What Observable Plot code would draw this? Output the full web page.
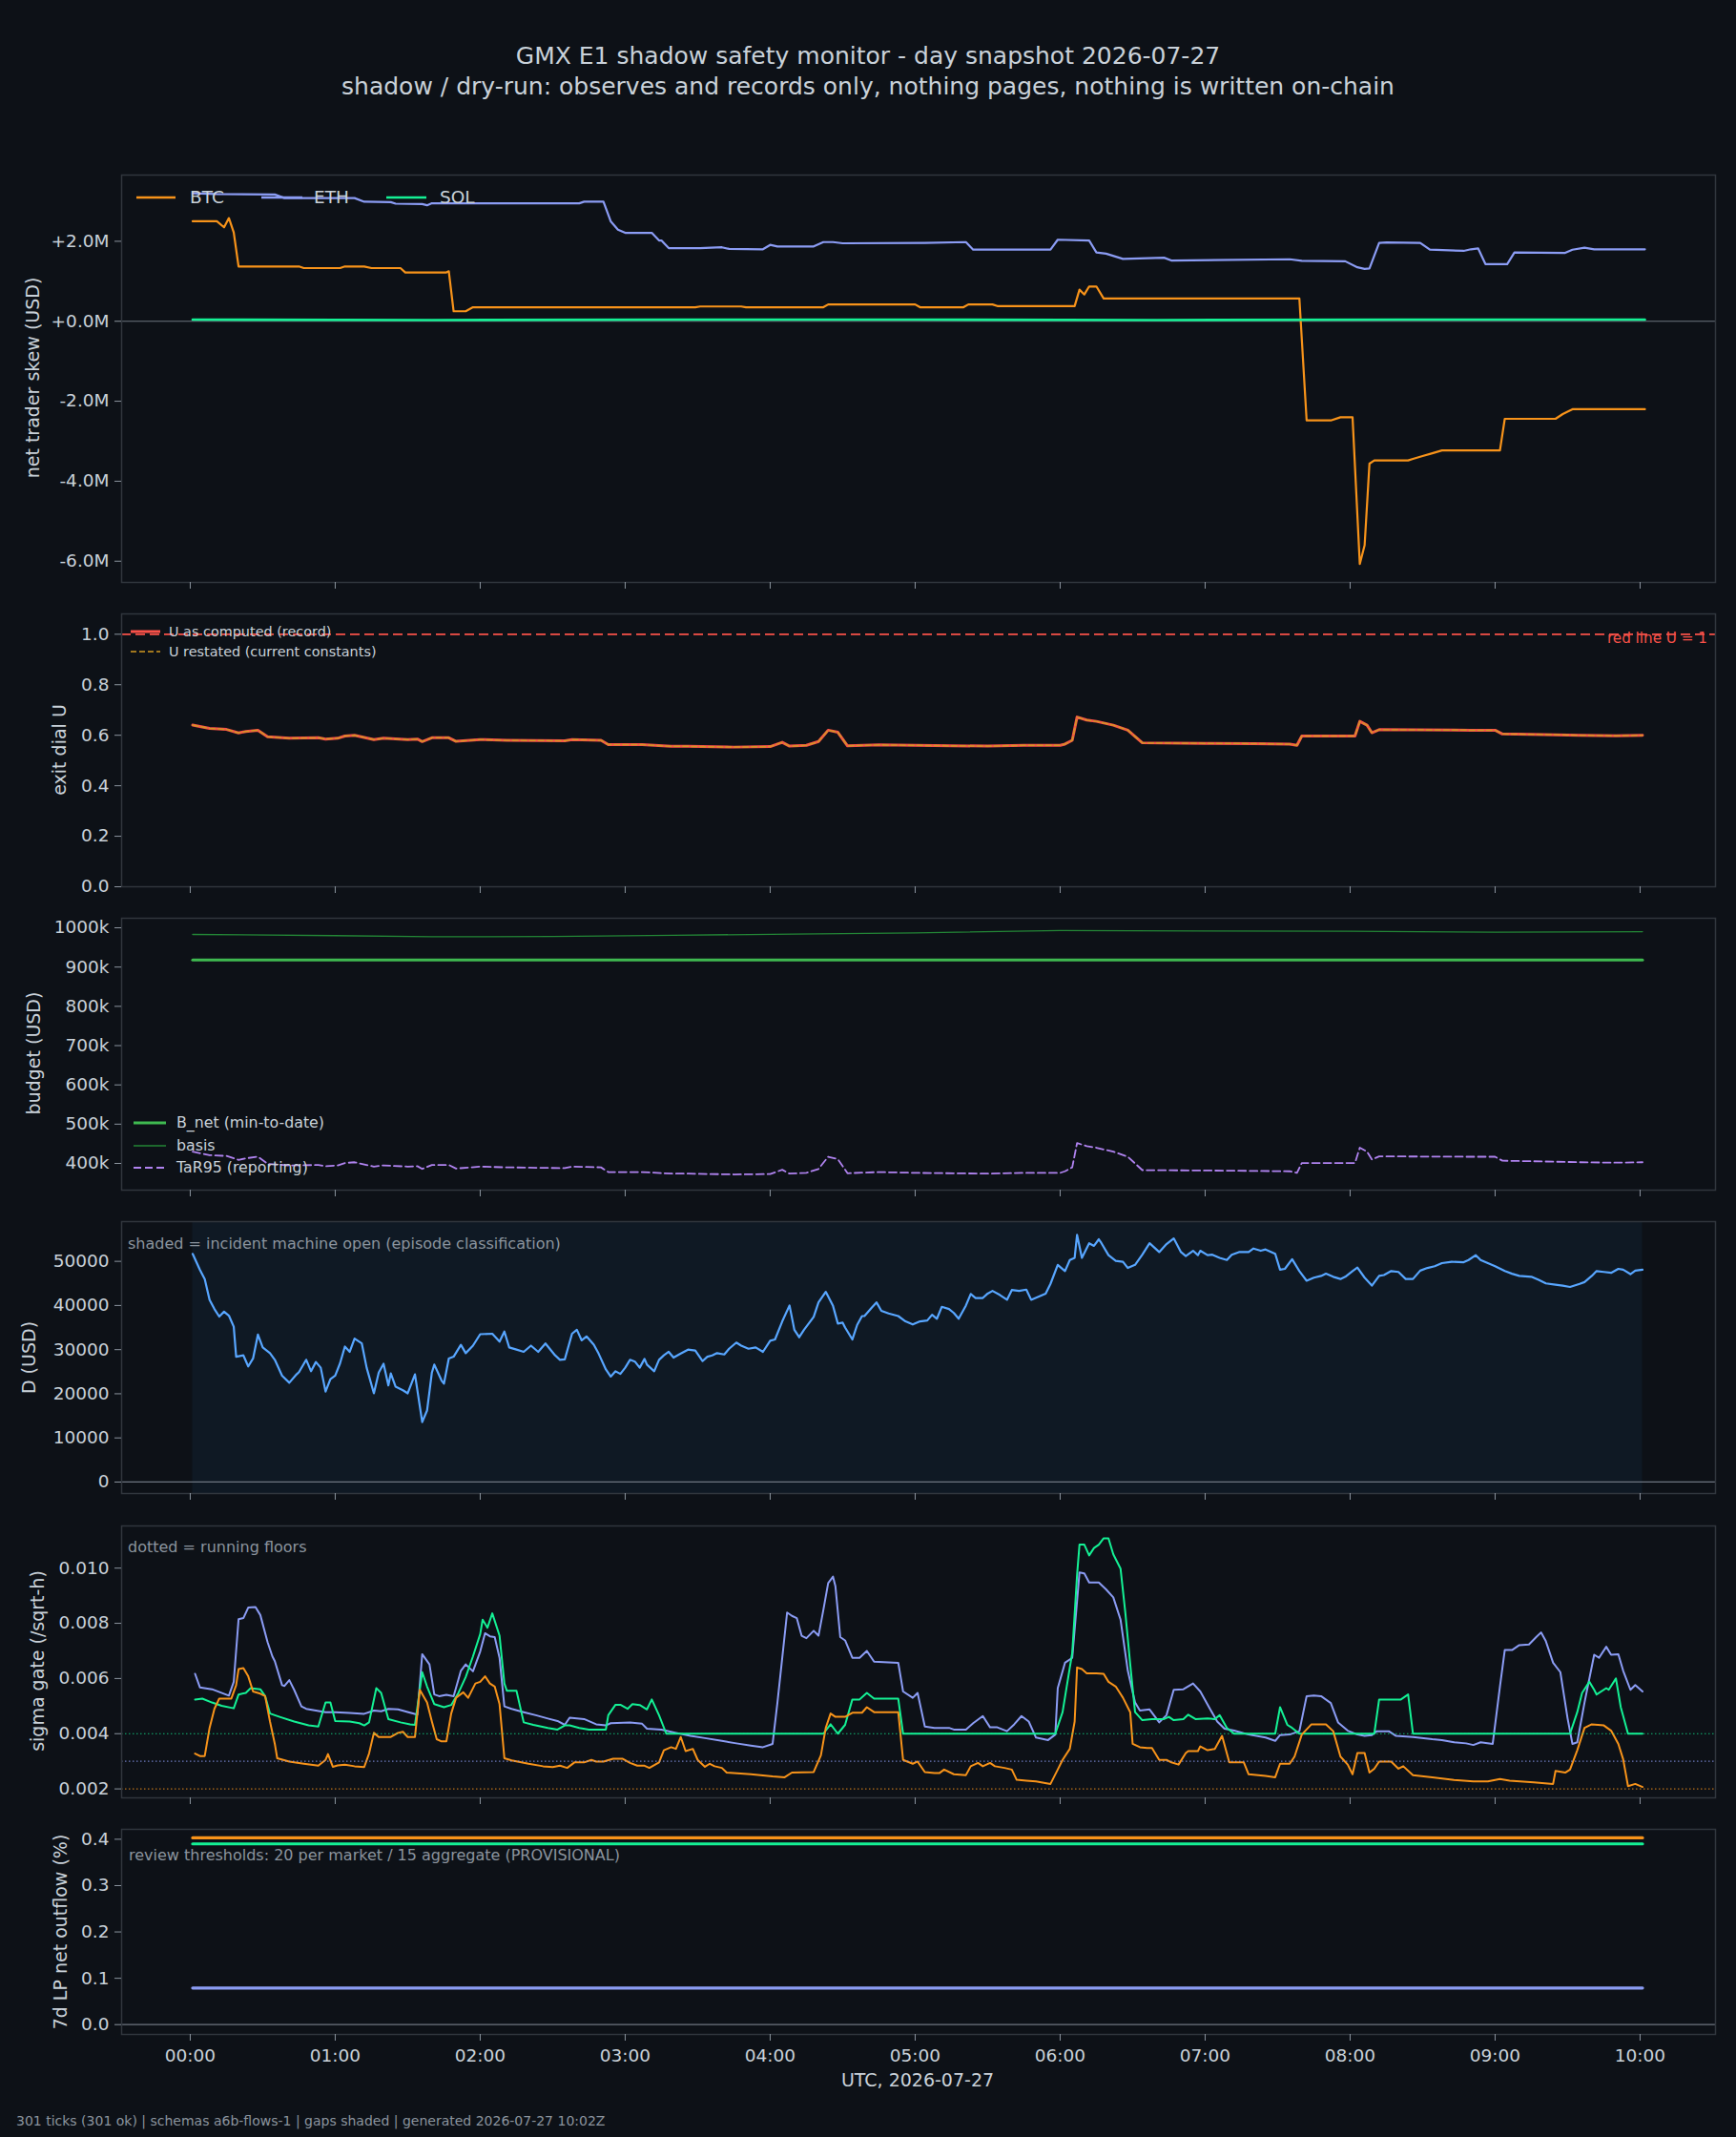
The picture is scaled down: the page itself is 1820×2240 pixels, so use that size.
<!DOCTYPE html>
<html><head><meta charset="utf-8">
<script src="https://cdn.jsdelivr.net/npm/d3@7"></script>
<script src="https://cdn.jsdelivr.net/npm/@observablehq/plot@0.6"></script>
<style>
html,body{margin:0;padding:0;background:#0d1117;}
#root{position:relative;width:1820px;height:2240px;background:#0d1117;font-family:"DejaVu Sans",sans-serif;color:#c9d1d9;overflow:hidden;}
.abs{position:absolute;white-space:nowrap;line-height:1;}
</style></head><body><div id="root"></div>
<script>
// ---------------- DATA (time in minutes after 00:00 UTC) ----------------
const xTickMinutes = [0,60,120,180,240,300,360,420,480,540,600];
const xTickLabels = ["00:00","01:00","02:00","03:00","04:00","05:00","06:00","07:00","08:00","09:00","10:00"];

// panel 1: net trader skew (USD millions)
const skewBtcT = [1,11,14,16,18,20,45,47,62,64,72,75,87,89,106,107,109,114,117,209,211,228,230,262,264,300,302,320,322,332,334,366,368,370,372,375,378,459,462,472,476,481,484,486,488,490,504,506,510,514,518,542,544,565,568,572,602];
const skewBtcV = [2.5,2.5,2.35,2.58,2.22,1.37,1.37,1.33,1.33,1.37,1.37,1.33,1.33,1.22,1.22,1.25,0.25,0.25,0.35,0.35,0.37,0.37,0.35,0.35,0.42,0.42,0.35,0.35,0.42,0.42,0.38,0.38,0.79,0.67,0.87,0.87,0.57,0.57,-2.48,-2.48,-2.4,-2.4,-6.07,-5.6,-3.56,-3.48,-3.48,-3.44,-3.37,-3.3,-3.23,-3.23,-2.44,-2.44,-2.32,-2.2,-2.2];
const skewEthT = [1,11,35,39,68,72,83,85,96,98,100,161,163,171,174,177,180,191,194,195,198,211,220,223,237,240,243,258,262,266,270,304,321,324,356,359,372,375,379,386,403,406,455,460,478,483,486,488,492,495,509,513,527,530,533,536,545,548,569,572,577,581,602];
const skewEthV = [3.2,3.18,3.17,3.08,3.08,2.99,2.98,2.94,2.93,2.9,2.95,2.95,2.99,2.99,2.5,2.29,2.21,2.21,2.02,2.02,1.83,1.83,1.85,1.81,1.8,1.91,1.87,1.87,1.98,1.98,1.95,1.96,1.98,1.79,1.79,2.04,2.02,1.72,1.69,1.56,1.59,1.52,1.55,1.51,1.5,1.35,1.31,1.32,1.96,1.97,1.96,1.79,1.76,1.8,1.82,1.43,1.43,1.72,1.71,1.79,1.84,1.8,1.8];
const skewSolT = [1,100,200,300,400,500,602];
const skewSolV = [0.04,0.03,0.04,0.04,0.03,0.04,0.04];

// panel 2: exit dial U (record and restated coincide)
const uT = [1,8,15,20,23,28,32,41,53,56,61,64,68,76,80,90,94,96,100,107,110,120,131,155,158,170,173,187,199,206,225,240,245,248,255,260,264,268,272,285,300,330,345,360,362,365,367,371,375,382,388,394,420,440,455,458,460,482,484,487,489,492,530,540,543,560,575,590,601];
const uRecordV = [0.640,0.627,0.623,0.609,0.615,0.620,0.594,0.588,0.590,0.585,0.588,0.597,0.600,0.583,0.588,0.583,0.585,0.575,0.590,0.590,0.576,0.583,0.580,0.578,0.583,0.580,0.563,0.563,0.556,0.556,0.553,0.555,0.572,0.557,0.560,0.575,0.620,0.612,0.558,0.562,0.560,0.557,0.560,0.560,0.565,0.580,0.672,0.660,0.655,0.640,0.620,0.570,0.568,0.567,0.565,0.560,0.597,0.597,0.655,0.640,0.610,0.622,0.620,0.620,0.605,0.603,0.600,0.598,0.600];
const uRestatedV = uRecordV.slice();
const uRedLine = 1;

// panel 3: budget (USD thousands)
const bNetT = [1,601];
const bNetV = [918,918];
const basisT = [1,60,100,150,200,250,300,360,420,480,540,601];
const basisV = [983,980,977,978,981,984,987,993,992,991,989,990];
const tar95V = [430,421,419,409,413,417,399,395,396,393,395,401,403,392,395,392,393,386,396,396,387,392,390,388,392,390,378,378,374,374,372,373,384,374,376,386,417,411,375,378,376,374,376,376,380,390,452,444,440,430,417,383,382,381,380,376,401,401,440,430,410,418,417,417,407,405,403,402,403];

// panel 4: D (USD thousands)
const dT = [1,4,6,8,10,12,14,16,18,19,22,24,26,28,30,33,35,38,41,44,45,48,50,52,54,56,58,60,62,64,66,68,71,73,76,78,80,82,83,85,88,90,93,96,98,100,101,104,105,107,109,112,114,117,120,125,128,130,132,135,138,141,144,147,151,153,155,158,160,162,164,167,169,172,174,176,178,180,182,184,186,188,189,192,194,196,198,200,203,206,209,212,214,216,218,221,223,226,228,231,234,237,240,242,245,248,250,252,254,258,260,263,266,268,270,271,274,276,278,279,282,284,286,289,293,296,299,302,305,307,309,311,314,316,318,321,323,325,328,330,332,335,338,340,343,346,348,351,354,356,359,362,364,366,367,369,372,374,376,377,380,383,386,388,391,394,397,401,404,407,410,412,415,417,418,421,423,426,429,431,434,438,440,443,445,449,451,453,456,459,462,465,468,470,473,476,478,481,483,486,489,492,494,497,500,503,506,509,512,515,518,522,527,529,532,534,537,540,544,547,550,555,558,561,565,568,571,575,577,580,582,585,588,591,593,596,598,601];
const dK = [51.7,48.1,46.0,41.3,39.2,37.5,38.6,37.7,35.2,28.4,28.7,26.2,28.0,33.4,30.5,29.2,27.7,24.1,22.5,24.4,24.9,27.7,25.1,27.2,25.9,20.5,23.3,24.1,26.9,30.7,29.5,32.5,31.4,25.9,20.1,24.8,26.8,21.9,24.6,21.6,20.8,20.1,24.4,13.6,16.2,24.8,26.6,23.0,22.3,28.0,28.4,31.1,29.2,30.9,33.5,33.6,31.8,34.1,30.5,30.0,29.5,30.9,29.5,31.4,28.7,27.7,27.8,33.6,34.5,32.1,33.0,31.1,29.1,25.5,23.9,25.1,24.5,25.9,27.7,27.3,25.9,27.9,26.6,25.1,27.7,28.7,29.5,28.2,29.1,30.0,29.8,27.4,28.4,28.7,29.2,28.9,30.2,31.6,30.9,30.2,30.5,29.5,32.0,32.3,36.4,40.0,34.5,32.8,34.5,37.4,40.7,43.1,39.9,35.9,36.1,35.0,32.3,35.6,37.6,37.6,39.5,40.7,38.8,38.2,37.6,36.4,35.7,36.4,36.6,37.9,37.0,39.7,39.2,38.3,37.0,40.0,42.6,41.7,41.7,42.7,43.3,42.4,41.3,43.5,43.3,43.6,41.3,42.0,42.7,44.9,49.2,47.8,50.3,50.8,56.0,50.8,54.1,53.5,55.0,54.2,51.4,50.1,49.9,48.5,49.2,51.5,54.1,52.1,53.9,55.2,52.1,51.2,52.4,51.4,52.4,51.4,51.5,50.8,50.3,51.5,52.1,52.1,52.9,52.4,52.7,51.7,48.1,48.3,50.5,47.8,45.6,46.3,46.7,47.2,46.5,46.0,46.5,47.8,48.6,46.3,44.5,46.7,46.9,47.8,47.6,46.0,46.0,47.9,48.5,48.9,49.6,49.9,49.8,50.3,51.4,50.3,49.6,48.9,47.8,47.2,46.7,46.5,45.8,45.0,44.7,44.5,44.2,44.9,45.3,46.7,47.8,47.6,47.4,48.3,48.1,47.1,47.9,48.1];
const incidentStart = 1, incidentEnd = 601;

// panel 5: sigma gate (/sqrt-h), values in thousandths
const sigEthT = [2,4,9,16,18,20,22,24,27,29,32,34,35,38,39,41,43,46,48,52,56,60,66,72,76,79,82,86,91,94,96,99,101,103,106,109,112,114,117,120,122,124,126,128,130,133,138,143,148,152,155,157,163,168,172,174,182,187,189,195,201,207,213,220,226,232,237,241,243,245,247,249,251,253,255,258,260,262,264,266,267,269,271,274,277,280,283,293,295,299,301,304,308,314,316,321,324,328,331,334,338,341,344,347,350,355,358,359,362,365,368,370,372,376,379,382,385,388,391,393,397,401,404,407,411,415,418,422,425,428,432,438,445,449,451,455,459,462,465,468,472,475,479,483,486,489,491,496,499,506,514,518,523,528,531,534,539,542,544,547,550,554,557,559,561,564,567,570,572,574,577,581,583,586,588,591,593,596,598,601];
const sigEthV = [6.17,5.68,5.61,5.38,5.88,8.15,8.19,8.57,8.59,8.30,7.32,6.80,6.63,5.76,5.73,5.94,5.59,4.99,4.90,4.84,4.78,4.78,4.75,4.72,4.84,4.81,4.90,4.88,4.76,4.69,6.88,6.51,5.42,5.36,5.41,5.36,6.28,6.51,6.26,6.98,7.64,7.53,7.50,6.75,4.99,4.90,4.78,4.67,4.55,4.46,4.32,4.58,4.53,4.34,4.30,4.38,4.41,4.36,4.18,4.15,4.03,3.92,3.84,3.74,3.65,3.57,3.51,3.63,5.13,6.75,8.39,8.27,8.19,7.55,7.46,7.73,7.55,8.48,9.46,9.69,9.34,7.50,7.38,6.75,6.75,7.00,6.61,6.57,5.53,5.30,5.48,4.26,4.21,4.21,4.15,4.15,4.38,4.64,4.23,4.23,4.09,4.34,4.64,4.44,3.86,3.77,3.97,5.65,6.57,6.75,9.84,9.81,9.48,9.48,9.23,8.94,8.13,6.28,5.13,4.84,4.88,4.41,4.67,5.59,5.61,5.82,5.53,4.90,4.44,4.18,4.11,3.97,3.86,3.74,3.95,3.97,4.09,5.36,5.38,5.36,5.11,4.41,4.11,3.97,3.92,3.95,4.09,4.09,3.92,3.88,3.80,3.77,3.69,3.65,3.59,3.69,3.63,5.71,7.03,7.03,7.21,7.23,7.50,7.67,7.35,6.57,6.23,4.55,3.63,3.69,5.13,6.86,6.75,7.15,6.86,6.88,6.28,5.59,5.76,5.53];
const sigSolT = [2,5,9,13,18,20,23,25,29,31,33,37,43,49,53,56,58,60,66,70,72,74,77,79,82,87,91,93,96,98,101,105,108,111,114,117,120,121,123,125,128,130,131,135,138,142,148,152,155,157,161,165,172,173,176,178,181,183,186,189,191,194,197,262,265,268,271,274,277,280,283,293,295,358,361,364,365,367,368,370,372,374,376,378,380,382,385,387,389,391,394,398,403,405,407,411,413,416,421,424,426,429,432,449,451,454,456,459,490,492,501,504,506,571,574,576,579,581,582,586,587,590,592,595,601];
const sigSolV = [5.24,5.27,5.13,5.01,4.92,5.42,5.48,5.65,5.61,5.36,4.73,4.61,4.44,4.30,4.26,5.13,5.13,4.46,4.44,4.38,4.30,4.41,5.65,5.48,4.53,4.41,4.34,4.32,6.23,5.71,5.07,4.96,5.04,5.48,6.05,6.80,7.61,8.13,7.84,8.36,7.55,5.82,5.56,5.56,4.41,4.32,4.21,4.15,4.30,4.30,4.21,4.15,4.15,4.67,5.05,5.05,4.90,5.07,5.04,4.88,5.24,4.67,4.00,4.00,4.34,4.00,4.32,5.24,5.24,5.48,5.27,5.27,4.00,4.00,4.78,6.40,6.92,9.75,10.85,10.85,10.46,10.73,10.85,11.08,11.08,10.50,9.98,8.36,6.51,4.78,4.49,4.53,4.53,4.61,4.49,4.53,4.69,4.53,4.55,4.53,4.67,4.21,4.00,4.00,4.96,4.32,4.21,4.00,4.00,5.24,5.24,5.42,4.00,4.00,4.78,5.48,5.88,5.59,5.42,5.65,5.59,6.00,4.96,4.00,4.00];
const sigBtcT = [2,4,6,8,10,12,17,19,20,22,24,26,29,31,33,35,36,41,47,53,56,57,59,61,64,68,72,74,76,78,83,86,88,90,93,95,98,100,102,104,106,108,110,113,115,118,120,122,124,126,128,130,133,140,146,150,153,156,159,163,166,168,171,175,179,182,185,188,190,194,196,199,201,203,205,208,210,213,215,217,220,222,232,241,246,249,258,261,263,265,267,271,274,278,280,283,293,295,299,301,304,308,310,312,316,321,323,326,328,331,333,337,340,342,346,350,356,359,361,364,366,367,369,371,375,378,380,383,386,389,390,393,396,398,401,404,406,409,412,413,417,418,421,424,427,430,436,438,445,449,451,455,457,460,464,470,473,476,479,481,483,486,488,490,492,497,500,502,506,514,523,531,537,542,546,556,564,565,569,571,574,577,580,585,588,591,593,595,598,601];
const sigBtcV = [3.28,3.19,3.19,4.21,4.90,5.27,5.27,5.76,6.34,6.38,6.08,5.53,5.45,5.36,4.44,3.63,3.11,2.99,2.91,2.84,3.05,3.26,2.80,2.85,2.88,2.82,2.79,3.28,4.03,3.88,3.88,4.03,4.07,3.88,3.88,5.59,5.13,4.44,3.80,3.72,3.72,4.73,5.30,5.50,5.30,5.82,5.88,6.08,5.82,5.71,5.07,3.11,3.03,2.91,2.82,2.79,2.84,2.76,2.96,2.96,3.05,2.99,2.99,3.09,3.09,2.94,2.84,2.84,2.76,2.96,3.40,3.51,3.45,3.88,3.37,3.45,3.05,2.80,2.91,2.82,2.76,2.59,2.53,2.45,2.42,2.59,2.61,3.22,4.21,4.73,4.61,4.61,4.76,4.76,4.96,4.78,4.78,3.05,2.91,2.99,2.61,2.57,2.57,2.70,2.53,2.50,2.82,2.94,2.82,2.94,2.82,2.76,2.70,2.33,2.30,2.27,2.18,2.70,3.05,3.45,4.44,6.40,6.34,6.19,6.19,6.17,5.88,5.71,5.30,4.78,3.63,3.51,3.48,3.48,3.05,3.05,2.96,2.88,3.30,3.37,3.37,3.54,3.40,3.45,3.92,2.96,2.96,2.53,2.47,2.42,2.91,2.91,3.17,3.97,4.34,4.34,4.09,3.17,2.88,2.53,3.30,3.30,2.59,2.73,2.99,2.99,2.73,2.82,2.50,2.42,2.32,2.27,2.27,2.36,2.30,2.24,2.18,2.65,2.59,2.70,3.40,4.21,4.34,4.30,4.11,3.63,3.07,2.10,2.18,2.07];
const floorBtc = 2.0, floorEth = 3.0, floorSol = 4.0;

// panel 6: 7d LP net outflow (%)
const outflowT = [1,601];
const outflowBtc = [0.403,0.403];
const outflowSol = [0.390,0.390];
const outflowEth = [0.079,0.079];

// ---------------- STYLE ----------------
const FRAME = "#30363d", TEXT = "#c9d1d9", MUTED = "#8b949e", TICK = "#8b949e", ZERO = "#6e7681";
const C_BTC = "#f7931a", C_ETH = "#8b9cf4", C_SOL = "#14f195";
const C_D = "#58a6ff", C_RED = "#f85149", C_YEL = "#d29922", C_BNET = "#3fb950", C_BASIS = "#238636", C_TAR = "#b083f0";
const FONT = "DejaVu Sans";
const TICK_FS = 18.5, LABEL_FS = 19, NOTE_FS = 16;
const X_DOMAIN = [-28.4, 631.2];
const ML = 127, MR = 22;
const root = document.getElementById("root");

const rows = (t, v, k = 1) => t.map((x, i) => ({t: x, v: v[i] * k}));

function txt(s, x, y, size, color, anchor = "start", rotate = 0) {
  const d = document.createElement("div");
  d.className = "abs"; d.textContent = s;
  d.style.left = x + "px"; d.style.top = y + "px";
  d.style.fontSize = size + "px"; d.style.color = color;
  const tx = rotate ? "-50%" : (anchor === "middle" ? "-50%" : anchor === "end" ? "-100%" : "0");
  d.style.transform = `translate(${tx},-50%)` + (rotate ? ` rotate(${rotate}deg)` : "");
  root.appendChild(d);
}

function panel(top, bottom, yDomain, yTicks, yFmt, marks, isLast) {
  const mt = 6, mb = isLast ? 36 : 14;
  const h = Math.round(bottom - top) + mt + mb;
  const chart = Plot.plot({
    width: 1820, height: h,
    marginTop: mt, marginBottom: mb, marginLeft: ML, marginRight: MR,
    style: {background: "none", color: TEXT, fontFamily: FONT, fontSize: TICK_FS + "px", overflow: "visible"},
    x: {domain: X_DOMAIN},
    y: {domain: yDomain},
    marks: [
      ...marks,
      Plot.frame({stroke: FRAME, strokeWidth: 1.5}),
      Plot.axisY({ticks: yTicks, tickFormat: yFmt, tickSize: 7, tickPadding: 6, label: null, stroke: TICK, fill: TEXT, fontSize: TICK_FS}),
      Plot.axisX({ticks: xTickMinutes, tickSize: 7, tickPadding: 8, label: null, stroke: TICK, fill: TEXT, fontSize: TICK_FS,
        tickFormat: isLast ? (d => xTickLabels[xTickMinutes.indexOf(d)]) : (() => "")})
    ]
  });
  chart.style.position = "absolute";
  chart.style.left = "0px";
  chart.style.top = (top - mt) + "px";
  root.appendChild(chart);
}

// ---------------- PANELS ----------------
panel(182.7, 609.3, [-6.531, 3.656], [-6, -4, -2, 0, 2],
  d => (d >= 0 ? "+" : "-") + Math.abs(d).toFixed(1) + "M",
  [
    Plot.ruleY([0], {stroke: ZERO, strokeWidth: 1.2}),
    Plot.line(rows(skewBtcT, skewBtcV), {x: "t", y: "v", stroke: C_BTC, strokeWidth: 2.2}),
    Plot.line(rows(skewEthT, skewEthV), {x: "t", y: "v", stroke: C_ETH, strokeWidth: 2.2}),
    Plot.line(rows(skewSolT, skewSolV), {x: "t", y: "v", stroke: C_SOL, strokeWidth: 2.6})
  ]);

panel(642.7, 928.6, [0, 1.0805], [0, 0.2, 0.4, 0.6, 0.8, 1.0], d => d.toFixed(1), [
  Plot.ruleY([uRedLine], {stroke: C_RED, strokeWidth: 1.8, strokeDasharray: "10,5"}),
  Plot.line(rows(uT, uRecordV), {x: "t", y: "v", stroke: C_RED, strokeWidth: 3}),
  Plot.line(rows(uT, uRestatedV), {x: "t", y: "v", stroke: C_YEL, strokeWidth: 1.5, strokeDasharray: "6,3"})
]);

panel(961.7, 1246.7, [332000, 1024300], [400000, 500000, 600000, 700000, 800000, 900000, 1000000], d => (d / 1000) + "k", [
  Plot.line(rows(bNetT, bNetV, 1000), {x: "t", y: "v", stroke: C_BNET, strokeWidth: 3}),
  Plot.line(rows(basisT, basisV, 1000), {x: "t", y: "v", stroke: C_BASIS, strokeWidth: 1.3}),
  Plot.line(rows(uT, tar95V, 1000), {x: "t", y: "v", stroke: C_TAR, strokeWidth: 1.8, strokeDasharray: "8,4"})
]);

panel(1279.7, 1565, [-2600, 59000], [0, 10000, 20000, 30000, 40000, 50000], d => String(d), [
  Plot.rect([{a: incidentStart, b: incidentEnd}], {x1: "a", x2: "b", fill: "#0f1924"}),
  Plot.ruleY([0], {stroke: ZERO, strokeWidth: 1.2}),
  Plot.line(rows(dT, dK, 1000), {x: "t", y: "v", stroke: C_D, strokeWidth: 2.2})
]);

panel(1598.7, 1883.7, [0.001675, 0.011528], [0.002, 0.004, 0.006, 0.008, 0.010], d => d.toFixed(3), [
  Plot.line(rows(sigEthT, sigEthV, 0.001), {x: "t", y: "v", stroke: C_ETH, strokeWidth: 2}),
  Plot.line(rows(sigSolT, sigSolV, 0.001), {x: "t", y: "v", stroke: C_SOL, strokeWidth: 2}),
  Plot.line(rows(sigBtcT, sigBtcV, 0.001), {x: "t", y: "v", stroke: C_BTC, strokeWidth: 2}),
  Plot.ruleY([floorSol * 0.001], {stroke: C_SOL, strokeWidth: 1.2, strokeDasharray: "1.5,2.5", strokeOpacity: 0.75}),
  Plot.ruleY([floorEth * 0.001], {stroke: C_ETH, strokeWidth: 1.2, strokeDasharray: "1.5,2.5", strokeOpacity: 0.75}),
  Plot.ruleY([floorBtc * 0.001], {stroke: C_BTC, strokeWidth: 1.2, strokeDasharray: "1.5,2.5", strokeOpacity: 0.75})
]);

panel(1917.3, 2132.3, [-0.0212, 0.4214], [0, 0.1, 0.2, 0.3, 0.4], d => d.toFixed(1), [
  Plot.ruleY([0], {stroke: ZERO, strokeWidth: 1.2}),
  Plot.line(rows(outflowT, outflowBtc), {x: "t", y: "v", stroke: C_BTC, strokeWidth: 3.2}),
  Plot.line(rows(outflowT, outflowSol), {x: "t", y: "v", stroke: C_SOL, strokeWidth: 3.2}),
  Plot.line(rows(outflowT, outflowEth), {x: "t", y: "v", stroke: C_ETH, strokeWidth: 3.2})
], true);

// ---------------- TEXT & LEGENDS ----------------
txt("GMX E1 shadow safety monitor - day snapshot 2026-07-27", 910, 58, 25, TEXT, "middle");
txt("shadow / dry-run: observes and records only, nothing pages, nothing is written on-chain", 910, 90, 25, TEXT, "middle");

txt("net trader skew (USD)", 34, 396, LABEL_FS, TEXT, "middle", -90);
txt("exit dial U", 62, 786, LABEL_FS, TEXT, "middle", -90);
txt("budget (USD)", 35, 1104, LABEL_FS, TEXT, "middle", -90);
txt("D (USD)", 30, 1423, LABEL_FS, TEXT, "middle", -90);
txt("sigma gate (/sqrt-h)", 39, 1741, LABEL_FS, TEXT, "middle", -90);
txt("7d LP net outflow (%)", 63, 2025, LABEL_FS, TEXT, "middle", -90);

txt("UTC, 2026-07-27", 962, 2180, LABEL_FS, TEXT, "middle");
txt("301 ticks (301 ok) | schemas a6b-flows-1 | gaps shaded | generated 2026-07-27 10:02Z", 17, 2223, 14, MUTED);

txt("red line U = 1", 1790, 670, 15.2, C_RED, "end");
txt("shaded = incident machine open (episode classification)", 134, 1304, NOTE_FS, MUTED);
txt("dotted = running floors", 134, 1622, NOTE_FS, MUTED);
txt("review thresholds: 20 per market / 15 aggregate (PROVISIONAL)", 135, 1945, NOTE_FS, MUTED);

const ns = "http://www.w3.org/2000/svg";
const ov = document.createElementNS(ns, "svg");
ov.setAttribute("width", 1820); ov.setAttribute("height", 2240);
ov.style.position = "absolute"; ov.style.left = "0"; ov.style.top = "0"; ov.style.pointerEvents = "none";
root.appendChild(ov);
function sample(x1, x2, y, color, w, dash) {
  const l = document.createElementNS(ns, "line");
  l.setAttribute("x1", x1); l.setAttribute("x2", x2); l.setAttribute("y1", y); l.setAttribute("y2", y);
  l.setAttribute("stroke", color); l.setAttribute("stroke-width", w);
  if (dash) l.setAttribute("stroke-dasharray", dash);
  ov.appendChild(l);
}
sample(143, 184, 207, C_BTC, 2.6); txt("BTC", 199, 207, 18.5, TEXT);
sample(274, 317, 207, C_ETH, 2.6); txt("ETH", 329, 207, 18.5, TEXT);
sample(405, 447, 207, C_SOL, 2.6); txt("SOL", 461, 207, 18.5, TEXT);

sample(137, 168, 662, C_RED, 3); txt("U as computed (record)", 177, 662, 14.4, TEXT);
sample(137, 168, 683, C_YEL, 1.5, "6,3"); txt("U restated (current constants)", 177, 683, 14.4, TEXT);

sample(140, 174, 1177, C_BNET, 3); txt("B_net (min-to-date)", 185, 1177, 15.8, TEXT);
sample(140, 174, 1201, C_BASIS, 1.3); txt("basis", 185, 1201, 15.8, TEXT);
sample(140, 174, 1224, C_TAR, 1.8, "8,4"); txt("TaR95 (reporting)", 185, 1224, 15.8, TEXT);
</script></body></html>
